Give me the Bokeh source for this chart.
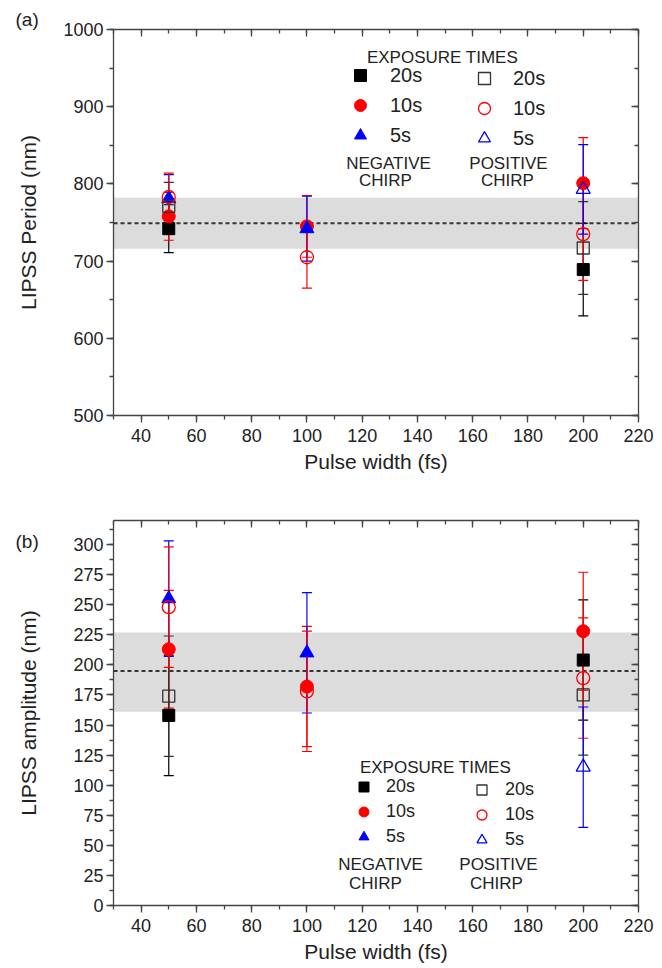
from bokeh.plotting import figure
from bokeh.models import (ColumnDataSource, Whisker, TeeHead, BoxAnnotation, Span,
                          LinearAxis, Range1d, Legend, LegendItem, Label,
                          SingleIntervalTicker, CustomLabelingPolicy)
from bokeh.layouts import column
from bokeh.embed import file_html
from bokeh.resources import INLINE

FONT = "Liberation Sans"
TXT = "#222222"

# ---------------- data: panel (a) LIPSS period (nm) ----------------
a_neg20_x = [50, 200]
a_neg20_y = [742, 689]
a_neg20_e = [31, 60]
a_neg10_x = [50, 100, 200]
a_neg10_y = [758, 745, 801]
a_neg10_e = [31, 40, 59]
a_neg5_x = [50, 100]
a_neg5_y = [781, 742]
a_neg5_e = [31, 42]
a_pos20_x = [50, 200]
a_pos20_y = [771, 717]
a_pos20_e = [31, 60]
a_pos10_x = [50, 100, 200]
a_pos10_y = [783, 705, 735]
a_pos10_e = [31, 40, 60]
a_pos5_x = [200]
a_pos5_y = [793]
a_pos5_e = [58]
a_mean = 749
a_band = [716, 782]

# ---------------- data: panel (b) LIPSS amplitude (nm) ----------------
b_neg20_x = [50, 200]
b_neg20_y = [158, 204]
b_neg20_e = [50, 50]
b_neg10_x = [50, 100, 200]
b_neg10_y = [213, 182, 228]
b_neg10_e = [49, 50, 49]
b_neg5_x = [50, 100]
b_neg5_y = [255, 210]
b_neg5_e = [48, 50]
b_pos20_x = [50, 200]
b_pos20_y = [174, 175]
b_pos20_e = [50, 50]
b_pos10_x = [50, 100, 200]
b_pos10_y = [248, 178, 189]
b_pos10_e = [50, 50, 50]
b_pos5_x = [200]
b_pos5_y = [115]
b_pos5_e = [50]
b_mean = 195
b_band = [161, 227]

x_ticks_interval = 20
legend_labels = ["20s", "10s", "5s"]

BLACK = "#000000"
GREY = "#333333"
RED = "#ff0000"
BLUE = "#0000ff"


def style_axes(p, y_interval, ylabel, ylab_standoff, xlab_standoff):
    xt = SingleIntervalTicker(interval=x_ticks_interval, num_minor_ticks=2)
    yt = SingleIntervalTicker(interval=y_interval, num_minor_ticks=2)
    bottom = LinearAxis(ticker=xt, axis_label="Pulse width (fs)")
    left = LinearAxis(ticker=yt, axis_label=ylabel)
    top = LinearAxis(ticker=xt)
    right = LinearAxis(ticker=yt)
    for ax in (bottom, left):
        ax.major_tick_out = 7
        ax.major_tick_in = 0
        ax.minor_tick_out = 4
        ax.minor_tick_in = 0
        ax.major_label_text_font = FONT
        ax.major_label_text_font_size = "18px"
        ax.major_label_text_color = TXT
        ax.axis_label_text_font = FONT
        ax.axis_label_text_font_size = "21px"
        ax.axis_label_text_font_style = "normal"
        ax.axis_label_text_color = TXT
    bottom.major_label_standoff = 6
    bottom.axis_label_standoff = xlab_standoff
    left.major_label_standoff = 3
    left.axis_label_standoff = ylab_standoff
    for ax in (top, right):
        ax.major_tick_out = 0
        ax.major_tick_in = 7
        ax.minor_tick_out = 0
        ax.minor_tick_in = 4
        ax.major_label_text_font_size = "0px"
        ax.major_label_standoff = 0
        ax.major_label_policy = CustomLabelingPolicy(code="""
            const result = new Set()
            return result
        """)
    for ax in (bottom, left, top, right):
        ax.axis_line_color = "#444444"
        ax.axis_line_width = 1.3
        ax.major_tick_line_color = "#444444"
        ax.major_tick_line_width = 1.3
        ax.minor_tick_line_color = "#444444"
        ax.minor_tick_line_width = 1.3
    p.add_layout(bottom, "below")
    p.add_layout(left, "left")
    p.add_layout(top, "above")
    p.add_layout(right, "right")


def add_series(p, xs, ys, es, marker, size, color, filled):
    src = ColumnDataSource(dict(x=xs, y=ys,
                                upper=[y + e for y, e in zip(ys, es)],
                                lower=[y - e for y, e in zip(ys, es)]))
    w = Whisker(source=src, base="x", upper="upper", lower="lower",
                dimension="height", line_color=color, line_width=1.2,
                upper_head=TeeHead(size=10, line_color=color, line_width=1.2),
                lower_head=TeeHead(size=10, line_color=color, line_width=1.2),
                level="underlay")
    p.add_layout(w)
    if filled:
        r = p.scatter("x", "y", source=src, marker=marker, size=size,
                      fill_color=color, line_color=color, line_width=1)
    else:
        r = p.scatter("x", "y", source=src, marker=marker, size=size,
                      fill_color=None, line_color=color, line_width=1.3)
    return r


def make_panel(height, border_top, border_bottom, yr, y_interval, ylabel,
               ylab_standoff, xlab_standoff, mean, band, series, tag, tag_standoff):
    p = figure(width=662, height=height, x_range=Range1d(30, 220), y_range=yr,
               output_backend="svg", toolbar_location=None, title=tag,
               min_border_left=113, min_border_right=24,
               min_border_top=border_top, min_border_bottom=border_bottom,
               x_axis_location=None, y_axis_location=None)
    p.title.align = "left"
    p.title.offset = -98
    try:
        p.title.standoff = tag_standoff
    except Exception:
        p.title.standoff = 0
    p.title.text_font = FONT
    p.title.text_font_size = "19px"
    p.title.text_font_style = "normal"
    p.title.text_color = TXT
    p.xgrid.visible = False
    p.ygrid.visible = False
    p.outline_line_color = None
    p.background_fill_color = "white"
    p.add_layout(BoxAnnotation(bottom=band[0], top=band[1], fill_color="#dcdcdc",
                               fill_alpha=1.0, line_color=None, level="underlay"))
    p.add_layout(Span(location=mean, dimension="width", line_color="#333333",
                      line_width=2, line_dash="4 3", level="underlay"))
    rends = []
    for (xs, ys, es, marker, size, color, filled) in series:
        rends.append(add_series(p, xs, ys, es, marker, size, color, filled))
    style_axes(p, y_interval, ylabel, ylab_standoff, xlab_standoff)
    return p, rends


def add_text(p, x, y, text, size):
    p.add_layout(Label(x=x, y=y, x_units="screen", y_units="screen", text=text,
                       text_align="center", text_baseline="middle",
                       text_font=FONT, text_font_size=size, text_color=TXT))


def add_legends(p, rends, neg_loc, pos_loc, gsize, pitch, standoffs, fsize):
    neg = rends[:3]
    pos = rends[3:]
    for rs, loc, so in ((neg, neg_loc, standoffs[0]), (pos, pos_loc, standoffs[1])):
        lg = Legend(items=[LegendItem(label=l, renderers=[r]) for l, r in zip(legend_labels, rs)],
                    location=loc, orientation="vertical", glyph_width=gsize, glyph_height=gsize,
                    label_height=gsize, spacing=pitch - gsize, padding=0, margin=0,
                    label_standoff=so, label_text_font=FONT,
                    label_text_font_size=fsize, label_text_color=TXT,
                    border_line_color=None, background_fill_alpha=0)
        p.add_layout(lg)


series_a = [
    (a_neg20_x, a_neg20_y, a_neg20_e, "square", 12, BLACK, True),
    (a_neg10_x, a_neg10_y, a_neg10_e, "circle", 13, RED, True),
    (a_neg5_x, a_neg5_y, a_neg5_e, "triangle", 14, BLUE, True),
    (a_pos20_x, a_pos20_y, a_pos20_e, "square", 12, GREY, False),
    (a_pos10_x, a_pos10_y, a_pos10_e, "circle", 13, RED, False),
    (a_pos5_x, a_pos5_y, a_pos5_e, "triangle", 14, BLUE, False),
]
series_b = [
    (b_neg20_x, b_neg20_y, b_neg20_e, "square", 12, BLACK, True),
    (b_neg10_x, b_neg10_y, b_neg10_e, "circle", 13, RED, True),
    (b_neg5_x, b_neg5_y, b_neg5_e, "triangle", 14, BLUE, True),
    (b_pos20_x, b_pos20_y, b_pos20_e, "square", 12, GREY, False),
    (b_pos10_x, b_pos10_y, b_pos10_e, "circle", 13, RED, False),
    (b_pos5_x, b_pos5_y, b_pos5_e, "triangle", 14, BLUE, False),
]

pa, ra = make_panel(488, 29, 73, Range1d(500, 1000), 100, "LIPSS Period (nm)",
                    20, 5, a_mean, a_band, series_a, "(a)", 0)
add_legends(pa, ra, (232, 265), (356, 262), 30, 25, (15, 14), "20px")
add_text(pa, 329, 358, "EXPOSURE TIMES", "17px")
add_text(pa, 275, 252, "NEGATIVE", "17px")
add_text(pa, 272, 235, "CHIRP", "17px")
add_text(pa, 395, 252, "POSITIVE", "17px")
add_text(pa, 394, 235, "CHIRP", "17px")

pb, rb = make_panel(479, 32, 62, Range1d(0, 320), 25, "LIPSS amplitude (nm)",
                    30, 5, b_mean, b_band, series_b, "(b)", -62)
add_legends(pb, rb, (238, 56), (356, 53), 25, 20, (10, 11), "18px")
add_text(pb, 322, 138, "EXPOSURE TIMES", "17px")
add_text(pb, 267, 41, "NEGATIVE", "17px")
add_text(pb, 262, 22, "CHIRP", "17px")
add_text(pb, 385, 41, "POSITIVE", "17px")
add_text(pb, 383, 22, "CHIRP", "17px")

layout = column(pa, pb, spacing=0)
open("out.html", "w").write(file_html(layout, INLINE))
